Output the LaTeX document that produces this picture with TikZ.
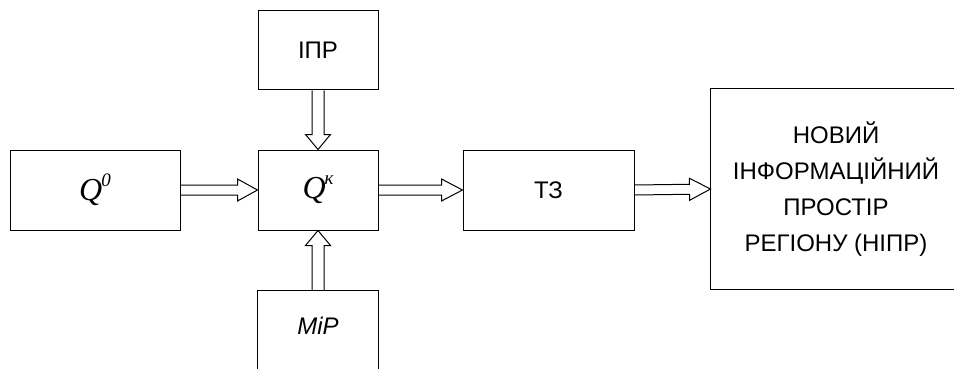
\documentclass[tikz,border=0pt]{standalone}
\usepackage{fontspec}
\setmainfont{Liberation Serif}
\setsansfont{Liberation Sans}
\usetikzlibrary{calc}

% hollow block arrow: from, to, half shaft, half head, head length
\newcommand{\blockarrow}[5]{%
    \coordinate (hb) at ($(#2)!#5!(#1)$);
    \draw[arrowline] ($(#1)!#3!90:(#2)$) -- ($(hb)!#3!-90:(#1)$)
        -- ($(hb)!#4!-90:(#1)$) -- (#2) -- ($(hb)!#4!90:(#1)$)
        -- ($(hb)!#3!90:(#1)$) -- ($(#1)!#3!-90:(#2)$);
}
\newcommand{\qlabel}[1]{{\rmfamily\fontsize{32}{32}\selectfont\itshape
    Q\kern-1pt\raisebox{14pt}{\fontsize{19}{19}\selectfont #1}}}

\begin{document}
\begin{tikzpicture}[x=1pt, y=-1pt,
    box/.style={draw, line width=1pt, inner sep=0pt, align=center,
        font=\sffamily\fontsize{24}{36}\selectfont},
    arrowline/.style={draw, line width=1pt, line join=miter}]
    \useasboundingbox (0,0) rectangle (954,369);

    % boxes
    \node[box, minimum width=170pt, minimum height=80pt] (q0) at (95,190) {\qlabel{0}};
    \node[box, minimum width=120pt, minimum height=80pt] (qk) at (318,190) {\qlabel{к}};
    \node[box, minimum width=120pt, minimum height=79pt] (ipr) at (318,50.5) {ІПР};
    \node[box, minimum width=171pt, minimum height=80pt] (tz) at (548.5,190) {ТЗ};
    % boxes cut off by the page edge
    \node[box, draw=none, anchor=north, minimum width=120pt, text height=44pt, text depth=45pt]
        (mip) at (318,290) {\itshape МіР};
    \draw[line width=1pt] (mip.south west) -- (mip.north west) -- (mip.north east)
        -- (mip.south east);
    \node[box, draw=none, minimum width=250pt, minimum height=200pt] (nipr) at (836,189)
        {НОВИЙ\\ІНФОРМАЦІЙНИЙ\\ПРОСТІР\\РЕГІОНУ (НІПР)};
    \draw[line width=1pt] (nipr.north west -| 954,0) -- (nipr.north west)
        -- (nipr.south west) -- (nipr.south west -| 954,0);

    % arrows
    \blockarrow{q0.east}{qk.west}{5pt}{11pt}{20pt}
    \blockarrow{qk.east}{tz.west}{5pt}{11pt}{21pt}
    \blockarrow{tz.east}{nipr.west}{5pt}{11pt}{21pt}
    \blockarrow{ipr.south}{qk.north}{6pt}{12.5pt}{15pt}
    \blockarrow{mip.north}{qk.south}{6pt}{12.5pt}{15pt}
\end{tikzpicture}
\end{document}
